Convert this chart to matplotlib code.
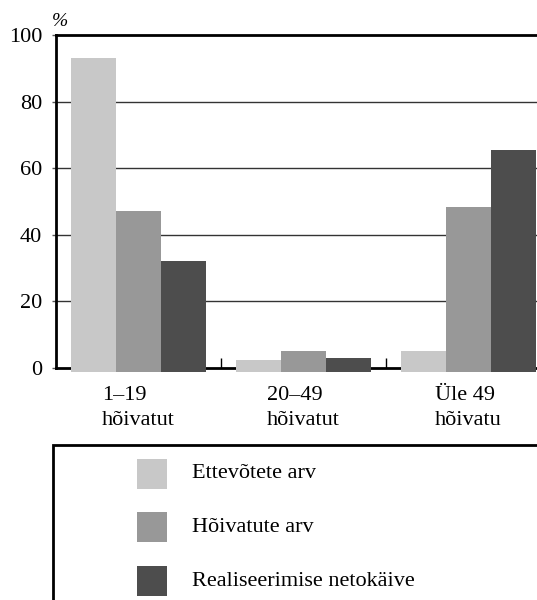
import numpy as np
import matplotlib
matplotlib.use('Agg')
from matplotlib import pyplot as plt
from matplotlib.patches import Rectangle

# data
groups = ['1\u201319\nh\u00f5ivatut', '20\u201349\nh\u00f5ivatut', '\u00dcle 49\nh\u00f5ivatu']
series = ['Ettev\u00f5tete arv', 'H\u00f5ivatute arv', 'Realiseerimise netok\u00e4ive']
ettevotted = [93.0, 2.4, 5.1]
hoivatud = [47.1, 5.1, 48.3]
netokaive = [32.1, 3.0, 65.4]
yticks = [0, 20, 40, 60, 80, 100]

colors = ['#c8c8c8', '#989898', '#4d4d4d']

plt.rcParams['font.family'] = ['Liberation Serif', 'DejaVu Serif']
plt.rcParams['font.size'] = 16

fig = plt.figure(figsize=(5.37, 6.0), dpi=100)
ax = fig.add_axes([56 / 537, 232 / 600, 495 / 537, 333 / 600])

x = np.arange(len(groups))
w = 0.273
for i, (vals, c) in enumerate(zip([ettevotted, hoivatud, netokaive], colors)):
    ax.bar(x + (i - 1) * w, np.array(vals) + 1.2, width=w, bottom=-1.2,
           color=c, zorder=4, clip_on=False)

ax.set_xlim(-0.5, 2.5)
ax.set_ylim(0, 100)
ax.set_yticks(yticks)
ax.set_xticks(x)
ax.set_xticklabels(groups, linespacing=1.45)
for lab in ax.get_xticklabels():
    lab.set_multialignment('left')
ax.set_xticks([0.5, 1.5], minor=True)
ax.tick_params(axis='x', which='major', length=0, pad=13)
ax.tick_params(axis='x', which='minor', direction='in', length=7, width=1)
ax.tick_params(axis='y', direction='out', length=3, width=1, pad=7, color='#555555')

for yv in yticks[1:-1]:
    ax.axhline(yv, color='#333333', lw=1, zorder=1)

for s in ['left', 'top', 'bottom']:
    ax.spines[s].set_linewidth(2)
    ax.spines[s].set_zorder(3)
ax.spines['right'].set_visible(False)

fig.text(60 / 537, 1 - 21 / 600, '%', fontsize=14, style='italic', ha='center', va='center')

# legend box drawn by hand, partly off-canvas like the reference
fig.add_artist(Rectangle((53 / 537, -0.1), 0.95, 0.1 + (600 - 445) / 600,
                         transform=fig.transFigure, fill=False, lw=2, ec='black'))
ycent = [474, 527, 581]
for name, c, yc in zip(series, colors, ycent):
    fy = 1 - yc / 600
    fig.add_artist(Rectangle((137 / 537, fy - 15 / 600), 30 / 537, 30 / 600,
                             transform=fig.transFigure, color=c, lw=0))
    fig.text(192 / 537, fy, name, fontsize=16, va='center', ha='left')

fig.savefig('out.png', dpi=100)
